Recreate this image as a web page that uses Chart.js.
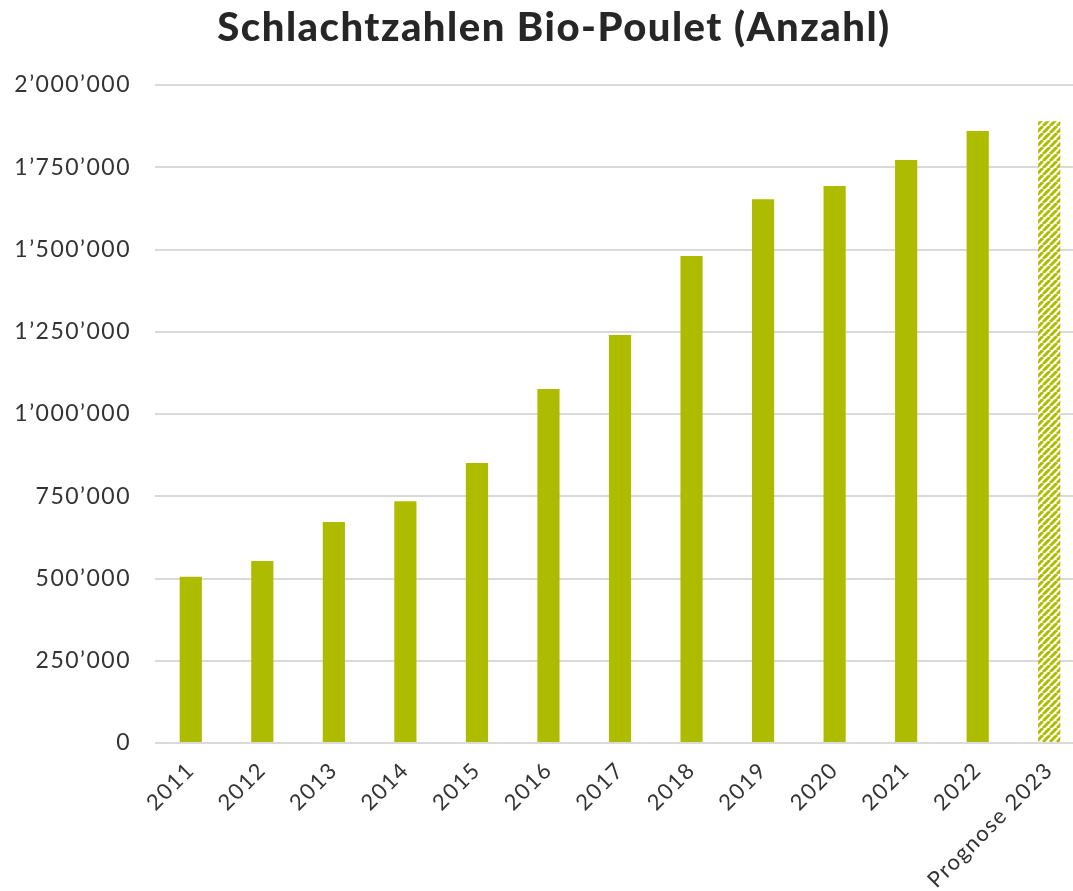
<!DOCTYPE html>
<html>
<head>
<meta charset="utf-8">
<script src="https://cdn.jsdelivr.net/npm/chart.js@4"></script>
<style>
  html, body { margin: 0; padding: 0; background: #fff; overflow: hidden; }
  #wrap { width: 1073px; height: 891px; overflow: hidden; }
</style>
</head>
<body>
<div id="wrap"><canvas id="chart" width="1108" height="891"></canvas></div>
<script>
// Data definitions
const years = ['2011', '2012', '2013', '2014', '2015', '2016', '2017', '2018', '2019', '2020', '2021', '2022', 'Prognose 2023'];
const slaughterCounts = [505000, 553000, 672000, 735000, 851000, 1076000, 1240000, 1480000, 1653000, 1693000, 1772000, 1860000, 1890000];
const isForecast = [false, false, false, false, false, false, false, false, false, false, false, false, true];

const green = '#aebc00';

// Hatched fill for the forecast bar
function makeHatch() {
  const c = document.createElement('canvas');
  c.width = 7;
  c.height = 7;
  const g = c.getContext('2d');
  g.fillStyle = '#fff';
  g.fillRect(0, 0, 7, 7);
  g.strokeStyle = green;
  g.lineWidth = 3;
  g.beginPath();
  for (let k = -7; k <= 14; k += 7) {
    g.moveTo(k, 7);
    g.lineTo(k + 7, 0);
  }
  g.stroke();
  return g.createPattern(c, 'repeat');
}

// 1'250'000 style thousands separator
function fmt(v) {
  return String(v).replace(/\B(?=(\d{3})+(?!\d))/g, '\u2019');
}

// widen the text a little, the original font is a wide geometric one
// and let the y labels use the left padding (they get clipped to the scale box otherwise)
const tweakPlugin = {
  id: 'tweak',
  afterLayout(chart) {
    chart.scales.y.left = 0;
  },
  beforeDraw(chart) {
    chart.ctx.letterSpacing = '1.5px';
  }
};

const hatch = makeHatch();

const chart = new Chart(document.getElementById('chart').getContext('2d'), {
  type: 'bar',
  data: {
    labels: years,
    datasets: [{
      label: 'Schlachtzahlen',
      data: slaughterCounts,
      backgroundColor: isForecast.map(f => f ? hatch : green),
      borderWidth: 0,
      categoryPercentage: 1,
      barPercentage: 0.31
    }]
  },
  options: {
    responsive: false,
    animation: false,
    layout: {
      padding: { left: 23, right: 23, top: 0, bottom: 0 }
    },
    plugins: {
      legend: { display: false },
      tooltip: { enabled: false },
      title: {
        display: true,
        text: 'Schlachtzahlen Bio-Poulet (Anzahl)',
        color: '#262626',
        font: { family: 'Lato', size: 40, weight: '900' },
        padding: { top: 4, bottom: 33 }
      }
    },
    scales: {
      x: {
        grid: { display: false },
        border: { display: false },
        ticks: {
          autoSkip: false,
          maxRotation: 45,
          minRotation: 45,
          color: '#333',
          padding: 6,
          font: { family: 'Lato', size: 22 }
        },
        afterFit: s => { s.height = 148; }
      },
      y: {
        min: 0,
        max: 2000000,
        grid: { color: '#d9d9d9', lineWidth: 2, drawTicks: false },
        border: { display: false },
        ticks: {
          stepSize: 250000,
          color: '#333',
          padding: 24,
          font: { family: 'Lato', size: 23 },
          callback: v => fmt(v)
        },
        afterFit: s => { s.width = 132; }
      }
    }
  },
  plugins: [tweakPlugin]
});
</script>
</body>
</html>
